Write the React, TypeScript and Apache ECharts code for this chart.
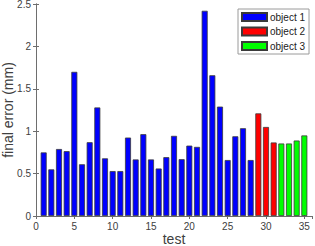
import React, { useEffect, useRef } from "react";
import * as echarts from "echarts";

const object1X = [1,2,3,4,5,6,7,8,9,10,11,12,13,14,15,16,17,18,19,20,21,22,23,24,25,26,27,28];
const object1Y = [0.75,0.55,0.79,0.765,1.70,0.61,0.87,1.28,0.68,0.53,0.53,0.925,0.667,0.965,0.667,0.56,0.694,0.945,0.67,0.83,0.815,2.42,1.66,1.29,0.66,0.94,1.035,0.66];
const object2X = [29,30,31];
const object2Y = [1.21,1.05,0.867];
const object3X = [32,33,34,35];
const object3Y = [0.855,0.855,0.89,0.95];
const seriesNames = ["object 1", "object 2", "object 3"];
const seriesColors = ["#0000ff", "#ff0000", "#00ff00"];
const xTitle = "test";
const yTitle = "final error (mm)";

const FONT = "Liberation Sans, Arial, sans-serif";
const AX = "#6e6e6e";
const TXT = "#404040";

export default function App() {
  const ref = useRef<HTMLDivElement>(null);
  useEffect(() => {
    if (!ref.current) return;
    const chart = echarts.init(ref.current, undefined, { renderer: "svg" });
    const groups = [
      [object1X, object1Y],
      [object2X, object2Y],
      [object3X, object3Y],
    ];
    const series = groups.map((g, i) => ({
      name: seriesNames[i],
      type: "bar",
      barWidth: 6,
      barGap: "-100%",
      data: g[0].map((x, j) => [x, g[1][j]]),
      itemStyle: { color: seriesColors[i], borderColor: "#3a3a3a", borderWidth: 0.8 },
    }));
    const hiddenLbl = { show: false };
    chart.setOption({
      animation: false,
      textStyle: { fontFamily: FONT },
      grid: { left: 36, right: 3, top: 4, bottom: 30, containLabel: false, outerBoundsMode: "none" },
      legend: {
        orient: "vertical",
        left: 238,
        top: 9,
        padding: [3, 4, 3, 3],
        itemGap: 4.5,
        itemWidth: 25,
        itemHeight: 8,
        icon: "rect",
        borderColor: "#9a9a9a",
        borderWidth: 1,
        backgroundColor: "#fff",
        textStyle: { fontSize: 10, color: "#222", fontFamily: FONT, padding: [0, 0, 0, -2] },
        data: seriesNames,
      },
      xAxis: [
        {
          type: "value",
          min: 0,
          max: 36,
          interval: 5,
          position: "bottom",
          name: xTitle,
          nameLocation: "middle",
          nameGap: 16,
          nameMoveOverlap: false,
          nameTextStyle: { fontSize: 14, color: TXT, fontFamily: FONT },
          axisLine: { show: true, lineStyle: { color: AX, width: 1 } },
          axisTick: { show: true, inside: true, length: 3, lineStyle: { color: AX } },
          axisLabel: {
            fontSize: 10,
            color: TXT,
            margin: 5,
            showMaxLabel: false,
            formatter: (v: number) => (v % 5 === 0 ? String(v) : ""),
          },
          splitLine: { show: false },
        },
        {
          type: "value",
          min: 0,
          max: 36,
          interval: 5,
          position: "top",
          axisLine: { show: true, lineStyle: { color: AX, width: 1 } },
          axisTick: { show: true, inside: true, length: 3, lineStyle: { color: AX } },
          axisLabel: hiddenLbl,
          splitLine: { show: false },
        },
      ],
      yAxis: [
        {
          type: "value",
          min: 0,
          max: 2.5,
          interval: 0.5,
          position: "left",
          name: yTitle,
          nameLocation: "middle",
          nameGap: 21,
          nameMoveOverlap: false,
          nameTextStyle: { fontSize: 14, color: TXT, fontFamily: FONT },
          axisLine: { show: true, lineStyle: { color: AX, width: 1 } },
          axisTick: { show: true, inside: true, length: 3, lineStyle: { color: AX } },
          axisLabel: { fontSize: 10, color: TXT, margin: 5 },
          splitLine: { show: false },
        },
        {
          type: "value",
          min: 0,
          max: 2.5,
          interval: 0.5,
          position: "right",
          axisLine: { show: true, lineStyle: { color: AX, width: 1 } },
          axisTick: { show: true, inside: true, length: 3, lineStyle: { color: AX } },
          axisLabel: hiddenLbl,
          splitLine: { show: false },
        },
      ],
      series,
    });
    return () => chart.dispose();
  }, []);
  return <div ref={ref} style={{ width: 315, height: 246, position: "absolute", left: 0, top: 0 }} />;
}
